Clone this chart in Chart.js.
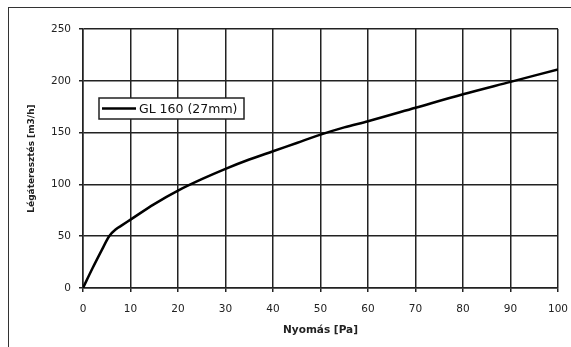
<!DOCTYPE html>
<html>
<head>
<meta charset="utf-8">
<script src="https://cdn.jsdelivr.net/npm/chart.js@4.4.1/dist/chart.umd.min.js"></script>
<style>
  html, body { margin: 0; padding: 0; background: #fff; }
  #wrap { position: relative; width: 571px; height: 347px; overflow: hidden; }
  #frame { position: absolute; left: 8px; top: 7px; width: 620px; height: 400px; border: 1.5px solid #333; }
  #c { position: absolute; left: 0; top: 0; }
</style>
</head>
<body>
<div id="wrap">
  <div id="frame"></div>
  <canvas id="c" width="571" height="347"></canvas>
</div>
<script>
// pressure [Pa] vs air flow [m3/h]
var pressure = [0, 2, 4, 5.5, 7, 8, 10, 15, 20, 25, 30, 35, 40, 45, 50, 55, 60, 70, 80, 90, 100];
var airflow  = [0, 19, 37, 50, 57, 60, 66, 81, 94, 105, 115, 124, 132, 140, 148, 155, 161, 174, 187, 199, 211];
var seriesName = "GL 160 (27mm)";
var xTicks = [0, 10, 20, 30, 40, 50, 60, 70, 80, 90, 100];
var yTicks = [0, 50, 100, 150, 200, 250];

var pts = [];
for (var i = 0; i < pressure.length; i++) {
  pts.push({x: pressure[i], y: airflow[i]});
}

// legend box sitting inside the plot, like the old excel chart
var boxLegend = {
  id: 'boxLegend',
  afterDraw: function(chart) {
    var ctx = chart.ctx;
    var ds = chart.data.datasets[0];
    var x = 99, y = 98, w = 145, h = 21;
    ctx.save();
    ctx.fillStyle = '#fff';
    ctx.fillRect(x, y, w, h);
    ctx.strokeStyle = '#222';
    ctx.lineWidth = 1.5;
    ctx.strokeRect(x, y, w, h);
    ctx.beginPath();
    ctx.moveTo(x + 3, y + h / 2);
    ctx.lineTo(x + 37, y + h / 2);
    ctx.strokeStyle = ds.borderColor;
    ctx.lineWidth = 2.5;
    ctx.stroke();
    ctx.fillStyle = '#111';
    ctx.font = '12.5px "DejaVu Sans"';
    ctx.textBaseline = 'middle';
    ctx.fillText(ds.label, x + 40, y + h / 2 + 1);
    ctx.restore();
  }
};

var ctx = document.getElementById('c').getContext('2d');
var config = {
  type: 'line',
  data: {
    datasets: [{
      label: seriesName,
      data: pts,
      borderColor: '#000',
      borderWidth: 2.5,
      pointRadius: 0,
      fill: false,
      cubicInterpolationMode: 'monotone'
    }]
  },
  options: {
    responsive: false,
    animation: false,
    layout: { padding: { left: 10, top: 29, right: 13, bottom: 2 } },
    plugins: { legend: { display: false }, tooltip: { enabled: false } },
    scales: {
      x: {
        type: 'linear',
        min: 0, max: 100,
        afterBuildTicks: function(s) { s.ticks = xTicks.map(function(v) { return {value: v}; }); },
        afterFit: function(s) { s.height = 57; s.paddingLeft = 0; s.paddingRight = 0; },
        grid: { color: '#222', lineWidth: 1.5, tickLength: 4, tickColor: '#222' },
        border: { color: '#222', width: 1.5 },
        ticks: { color: '#222', font: { family: 'DejaVu Sans', size: 10.5 }, padding: 11, maxRotation: 0 },
        title: { display: true, text: 'Nyomás [Pa]', color: '#222', font: { family: 'DejaVu Sans', size: 10.5, weight: 'bold' }, padding: { top: 6, bottom: 8 } }
      },
      y: {
        min: 0, max: 250,
        afterBuildTicks: function(s) { s.ticks = yTicks.map(function(v) { return {value: v}; }); },
        afterFit: function(s) { s.width = 73; s.paddingTop = 0; s.paddingBottom = 0; },
        grid: { color: '#222', lineWidth: 1.5, tickLength: 4, tickColor: '#222' },
        border: { color: '#222', width: 1.5 },
        ticks: { color: '#222', font: { family: 'DejaVu Sans', size: 10.5 }, padding: 8 },
        title: { display: true, text: 'Légáteresztés [m3/h]', color: '#222', font: { family: 'DejaVu Sans', size: 9, weight: 'bold' }, padding: { top: 16, bottom: 0 } }
      }
    }
  },
  plugins: [boxLegend]
};
window.myLine = new Chart(ctx, config);
</script>
</body>
</html>
